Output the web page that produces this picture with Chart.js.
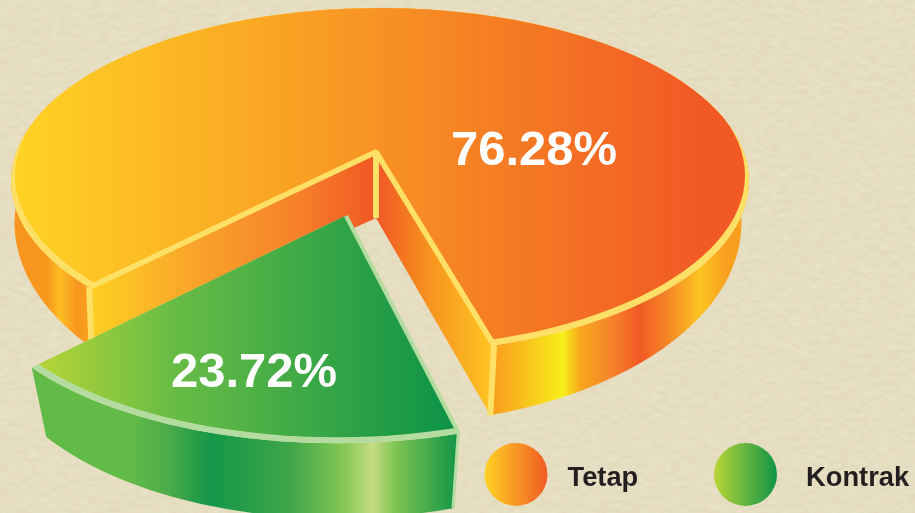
<!DOCTYPE html>
<html>
<head>
<meta charset="utf-8">
<style>
  html, body { margin: 0; padding: 0; width: 915px; height: 513px; overflow: hidden; background-color: #e3dabc; }
  #paper { position: absolute; left: 0; top: 0; width: 915px; height: 513px; opacity: 0.45;
    background-image: url("data:image/svg+xml,%3Csvg xmlns='http://www.w3.org/2000/svg' width='915' height='513'%3E%3Cfilter id='n'%3E%3CfeTurbulence type='fractalNoise' baseFrequency='0.1 0.22' numOctaves='3' seed='7'/%3E%3CfeColorMatrix values='0 0 0 0 1 0 0 0 0 0.97 0 0 0 0 0.86 0.9 0 0 0 -0.2'/%3E%3C/filter%3E%3Crect width='915' height='513' filter='url(%23n)'/%3E%3C/svg%3E"); }
  canvas { position: absolute; left: 0; top: 0; }
</style>
<script src="https://cdn.jsdelivr.net/npm/chart.js@4"></script>
</head>
<body>
<div id="paper"></div>
<canvas id="chart" width="915" height="513"></canvas>
<script>
const categories = ["Tetap", "Kontrak"];
const shareValues = [76.28, 23.72];

const SQUASH = 173 / 369;
const ctx = document.getElementById("chart").getContext("2d");

// look of each slice, the angles still come from the arc elements
const sliceLook = [
  {
    sweep: 1.056, turn: 0, shift: [0, 0], apex: [-4, -29], apexDepth: 66,
    base: { dx: -2, dy: 42, sx: 0.985, sy: 1.169 },
    edge: "#ffe066", labelAt: [154, -32], legendX: 516, legendTextX: 567.5,
    top: [[0, "#ffd324"], [0.93, "#f15a24"], [1, "#f15a24"]],
    topFrom: 12, topTo: 747,
    wall: [[14, "#f7941e"], [47, "#f8981d"], [60, "#fdbd24"], [77, "#f7961e"], [90, "#f9a01f"],
      [495, "#f99f1d"], [563, "#f7ee1a"], [580, "#f9a81d"], [610, "#f5842a"], [640, "#f15a25"], [670, "#f58a25"],
      [700, "#fdc521"], [725, "#f9a020"], [747, "#f99d1f"]],
    innerLeft: [[90, "#fdd023"], [200, "#f9a22a"], [300, "#f6802a"], [370, "#f15a24"]],
    innerRight: [[380, "#f15a24"], [430, "#f7941e"], [492, "#fec524"]],
    legend: [[0, "#ffd324"], [1, "#f15a24"]],
  },
  {
    sweep: 0.878, turn: 0.023, shift: [-43, 89.3], apex: [8, -54.3], apexDepth: 0,
    base: { dx: 0.5, dy: 62.2, sx: 0.954, sy: 1.075 },
    edge: "#b5dca0", labelAt: [-126, 190], legendX: 745.5, legendTextX: 806,
    top: [[0, "#b9d536"], [0.33, "#6abd45"], [1, "#0f9447"]],
    topFrom: 33, topTo: 445,
    wall: [[40, "#62bb47"], [130, "#62bb47"], [170, "#4aab4a"], [210, "#149748"], [290, "#3fa64a"], [340, "#7fc451"],
      [373, "#c5dc83"], [395, "#7fc451"], [457, "#139648"]],
    legend: [[0, "#b9d536"], [1, "#0f9447"]],
  },
];

function gradientX(stops, from, to) {
  const g = ctx.createLinearGradient(from, 0, to, 0);
  stops.forEach((s) => g.addColorStop(s[0], s[1]));
  return g;
}

// stops given in canvas x
function gradientAt(stops) {
  const from = stops[0][0];
  const to = stops[stops.length - 1][0];
  return gradientX(stops.map((s) => [(s[0] - from) / (to - from), s[1]]), from, to);
}

function pointOn(e, angle) {
  return [e.cx + e.rx * Math.cos(angle), e.cy + e.ry * Math.sin(angle)];
}

function polygon(c, points) {
  c.beginPath();
  points.forEach((p, i) => (i ? c.lineTo(p[0], p[1]) : c.moveTo(p[0], p[1])));
  c.closePath();
}

function drawSlice(c, arc, look, index) {
  const mid = (arc.startAngle + arc.endAngle) / 2 + look.turn;
  const half = ((arc.endAngle - arc.startAngle) / 2) * look.sweep;
  const a0 = mid - half;
  const a1 = mid + half;
  const rim = {
    cx: arc.x + look.shift[0],
    cy: arc.y + look.shift[1],
    rx: arc.outerRadius,
    ry: arc.outerRadius * SQUASH,
  };
  const foot = {
    cx: rim.cx + look.base.dx,
    cy: rim.cy + look.base.dy,
    rx: rim.rx * look.base.sx,
    ry: rim.ry * look.base.sy,
  };
  const apex = [rim.cx + look.apex[0], rim.cy + look.apex[1]];
  const apexLow = [apex[0], apex[1] + look.apexDepth];
  const p0 = pointOn(rim, a0);
  const p1 = pointOn(rim, a1);
  const q0 = pointOn(foot, a0);
  const q1 = pointOn(foot, a1);

  // outer wall
  c.beginPath();
  c.ellipse(rim.cx, rim.cy, rim.rx, rim.ry, 0, a0, a1);
  c.ellipse(foot.cx, foot.cy, foot.rx, foot.ry, 0, a1, a0, true);
  c.closePath();
  c.fillStyle = gradientAt(look.wall);
  c.fill();

  // walls of the cut
  if (look.innerLeft) {
    polygon(c, [p1, apex, apexLow, q1]);
    c.fillStyle = gradientAt(look.innerRight);
    c.fill();
    polygon(c, [p0, apex, apexLow, q0]);
    c.fillStyle = gradientAt(look.innerLeft);
    c.fill();
  }

  // top face: edge colour first, then the same ellipse pulled in so the band tapers away at the back
  c.save();
  c.beginPath();
  c.moveTo(apex[0], apex[1]);
  c.lineTo(p0[0], p0[1]);
  c.ellipse(rim.cx, rim.cy, rim.rx, rim.ry, 0, a0, a1);
  c.closePath();
  c.clip();
  c.fillStyle = look.edge;
  c.fillRect(0, 0, 915, 513);
  c.beginPath();
  c.ellipse(rim.cx, rim.cy - 5.5, rim.rx - 4, rim.ry - 0.5, 0, 0, Math.PI * 2);
  c.fillStyle = gradientX(look.top, look.topFrom, look.topTo);
  c.fill();
  c.restore();

  // straight edges
  c.strokeStyle = look.edge;
  c.lineJoin = "bevel";
  if (index === 0) {
    c.lineWidth = 5.5;
    c.beginPath();
    c.moveTo(p0[0], p0[1]);
    c.lineTo(apex[0], apex[1]);
    c.lineTo(p1[0], p1[1]);
    c.stroke();
    c.lineWidth = 6;
    [[apex, apexLow], [p0, q0], [p1, q1]].forEach((l) => {
      c.beginPath();
      c.moveTo(l[0][0], l[0][1]);
      c.lineTo(l[1][0], l[1][1]);
      c.stroke();
    });
  } else {
    c.lineWidth = 4;
    c.beginPath();
    c.moveTo(apex[0] + 1, apex[1]);
    c.lineTo(p0[0] + 1, p0[1]);
    c.stroke();
    c.lineWidth = 3;
    c.beginPath();
    c.moveTo(p0[0], p0[1]);
    c.lineTo(q0[0], q0[1]);
    c.stroke();
  }

  // value label
  c.fillStyle = "#ffffff";
  c.font = "bold 49px 'Liberation Sans', Arial, sans-serif";
  c.textAlign = "center";
  c.textBaseline = "alphabetic";
  c.fillText(shareValues[index].toFixed(2) + "%", arc.x + look.labelAt[0], arc.y + look.labelAt[1] + 16);
}

function drawLegend(c) {
  categories.forEach((name, i) => {
    const look = sliceLook[i];
    c.beginPath();
    c.arc(look.legendX, 474.5, 31.5, 0, Math.PI * 2);
    c.fillStyle = gradientX(look.legend, look.legendX - 31.5, look.legendX + 31.5);
    c.fill();
    c.fillStyle = "#231f20";
    c.font = "bold 27.3px 'Liberation Sans', Arial, sans-serif";
    c.textAlign = "left";
    c.textBaseline = "alphabetic";
    c.fillText(name, look.legendTextX, 486);
  });
}

const slices3d = {
  id: "slices3d",
  beforeDatasetDraw(chart, args) {
    const c = chart.ctx;
    const arcs = args.meta.data;
    c.save();
    arcs.forEach((arc, i) => drawSlice(c, arc, sliceLook[i], i));
    drawLegend(c);
    c.restore();
    return false;
  },
};

new Chart(ctx, {
  type: "pie",
  data: {
    labels: categories,
    datasets: [{ data: shareValues, borderWidth: 0, radius: 369 }],
  },
  options: {
    responsive: false,
    animation: false,
    rotation: 239.7,
    layout: { padding: { right: 155, bottom: 151 } },
    plugins: { legend: { display: false }, tooltip: { enabled: false } },
  },
  plugins: [slices3d],
});
</script>
</body>
</html>
